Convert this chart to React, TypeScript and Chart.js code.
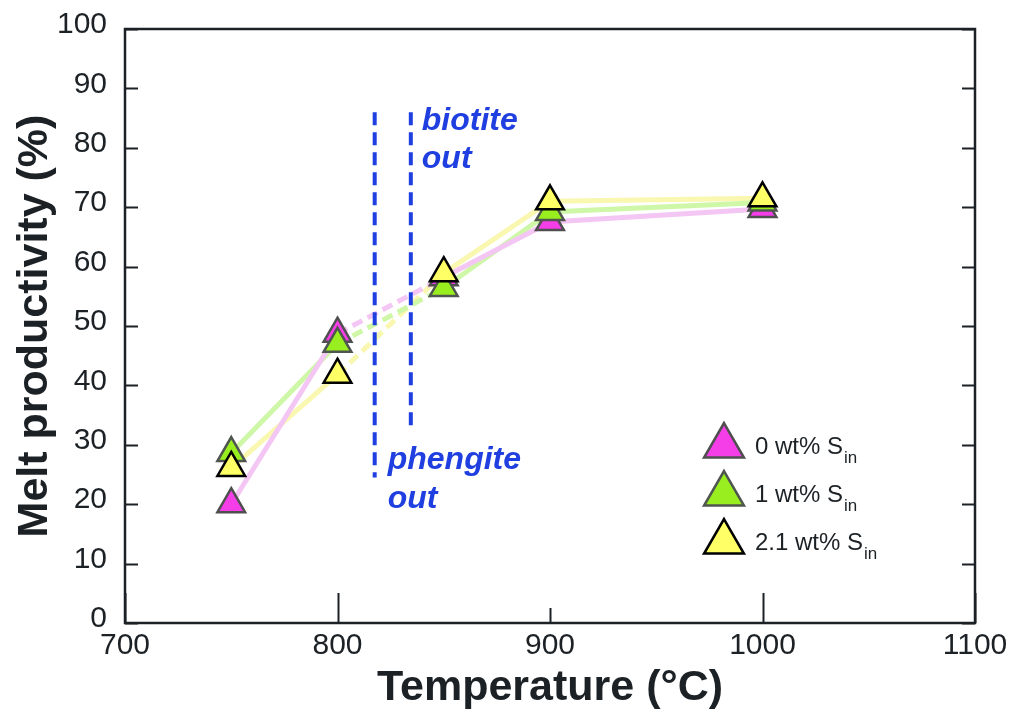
import React, { useEffect, useRef } from 'react';
import { Chart, registerables } from 'chart.js';

Chart.register(...registerables);

// ---- data ----
const temperatures = [750, 800, 850, 900, 1000];
const melt0 = [20.0, 48.7, 58.2, 67.5, 69.7];
const melt1 = [28.6, 47.0, 56.4, 69.2, 70.8];
const melt21 = [26.1, 41.8, 58.9, 71.0, 71.5];
const seriesNames = ['0 wt% S', '1 wt% S', '2.1 wt% S'];
const seriesSub = 'in';
const xTickValues = [700, 800, 900, 1000, 1100];
const yTickValues = [0, 10, 20, 30, 40, 50, 60, 70, 80, 90, 100];
const phaseNames = [['phengite', 'out'], ['biotite', 'out']];
const phaseTemps = [817.5, 834.5];
const phaseTop = [86, 86];
const phaseBottom = [24.5, 33];

// ---- styles ----
const FONT = '"Liberation Sans", Arial, sans-serif';
const TEXT = '#1c2126';
const BLUE = '#1f3fe0';
const pointFill = ['#f53de8', '#99ee1f', '#ffff66'];
const pointStroke = ['#4f4f4f', '#4f554f', '#000000'];
const lineColor = ['#f3c6f3', '#cff7a8', '#f9f7b0'];

const seriesValues = [melt0, melt1, melt21];

function toXY(vals: number[]) {
  return temperatures.map((t, i) => ({ x: t, y: vals[i] }));
}

function drawTri(ctx: CanvasRenderingContext2D, cx: number, cy: number, r: number, fill: string, stroke: string, lw: number) {
  ctx.beginPath();
  ctx.moveTo(cx, cy - r);
  ctx.lineTo(cx + (r * Math.sqrt(3)) / 2, cy + r / 2);
  ctx.lineTo(cx - (r * Math.sqrt(3)) / 2, cy + r / 2);
  ctx.closePath();
  ctx.fillStyle = fill;
  ctx.fill();
  ctx.lineWidth = lw;
  ctx.strokeStyle = stroke;
  ctx.lineJoin = 'miter';
  ctx.stroke();
}

const decorPlugin = {
  id: 'decor',
  afterDatasetsDraw(chart: any) {
    const { ctx, chartArea: a, scales } = chart;
    const x = scales.x;
    const y = scales.y;
    ctx.save();
    // phase boundaries
    ctx.strokeStyle = BLUE;
    ctx.lineWidth = 4;
    ctx.setLineDash([13, 7]);
    phaseTemps.forEach((t, i) => {
      const px = x.getPixelForValue(t);
      ctx.beginPath();
      ctx.moveTo(px, y.getPixelForValue(phaseTop[i]));
      ctx.lineTo(px, y.getPixelForValue(phaseBottom[i]));
      ctx.stroke();
    });
    ctx.setLineDash([]);
    ctx.fillStyle = BLUE;
    ctx.font = `italic bold 32px ${FONT}`;
    ctx.textAlign = 'left';
    ctx.textBaseline = 'alphabetic';
    // phengite: anchored near bottom of its line
    {
      const px = x.getPixelForValue(phaseTemps[0]);
      const py = y.getPixelForValue(phaseBottom[0]);
      ctx.fillText(phaseNames[0][0], px + 13, py - 8);
      ctx.fillText(phaseNames[0][1], px + 13, py + 31);
    }
    // biotite: anchored near top of its line
    {
      const px = x.getPixelForValue(phaseTemps[1]);
      const py = y.getPixelForValue(phaseTop[1]);
      ctx.fillText(phaseNames[1][0], px + 11, py + 18);
      ctx.fillText(phaseNames[1][1], px + 11, py + 56);
    }
    // frame
    ctx.strokeStyle = TEXT;
    ctx.lineWidth = 2.5;
    ctx.strokeRect(a.left, a.top, a.right - a.left, a.bottom - a.top);
    // inward ticks
    ctx.lineWidth = 2;
    yTickValues.forEach((v) => {
      const py = Math.round(y.getPixelForValue(v)) + 0.5;
      ctx.beginPath();
      ctx.moveTo(a.left, py);
      ctx.lineTo(a.left + 13, py);
      ctx.moveTo(a.right, py);
      ctx.lineTo(a.right - 13, py);
      ctx.stroke();
    });
    xTickValues.forEach((v) => {
      const px = Math.round(x.getPixelForValue(v)) + 0.5;
      const len = v === 900 ? 15 : 30;
      ctx.beginPath();
      ctx.moveTo(px, a.bottom);
      ctx.lineTo(px, a.bottom - len);
      ctx.stroke();
    });
    ctx.restore();
  },
  afterDraw(chart: any) {
    const ctx = chart.ctx;
    ctx.save();
    const lx = 724;
    const ly0 = 454;
    const dy = 48;
    seriesNames.forEach((name, i) => {
      const base = ly0 + i * dy;
      drawTri(ctx, lx, base - 8, 23, pointFill[i], pointStroke[i], 2.5);
      ctx.fillStyle = TEXT;
      ctx.textAlign = 'left';
      ctx.textBaseline = 'alphabetic';
      ctx.font = `24px ${FONT}`;
      ctx.fillText(name, 755, base);
      const w = ctx.measureText(name).width;
      ctx.font = `17px ${FONT}`;
      ctx.fillText(seriesSub, 755 + w + 1, base + 9);
    });
    ctx.restore();
  },
};

export default function App() {
  const ref = useRef<HTMLCanvasElement | null>(null);
  useEffect(() => {
    if (!ref.current) return;
    const lineSets = seriesValues.map((vals, i) => ({
      label: seriesNames[i] + seriesSub + ' line',
      data: toXY(vals),
      showLine: true,
      borderColor: lineColor[i],
      backgroundColor: lineColor[i],
      borderWidth: 5,
      pointRadius: 0,
      order: 5 + i,
      segment: {
        borderDash: (c: any) => (c.p0DataIndex === 1 ? [11, 6] : undefined),
      },
    }));
    const pointSets = seriesValues.map((vals, i) => ({
      label: seriesNames[i] + seriesSub,
      data: toXY(vals),
      showLine: false,
      pointStyle: 'triangle',
      pointRadius: 16,
      pointBorderWidth: 2.5,
      pointBackgroundColor: pointFill[i],
      pointBorderColor: pointStroke[i],
      order: 2 - i,
    }));
    const chart = new Chart(ref.current, {
      type: 'scatter',
      data: { datasets: [...lineSets, ...pointSets] as any },
      options: {
        animation: false,
        responsive: false,
        devicePixelRatio: 1,
        events: [],
        layout: { padding: { left: 0, top: 29, right: 39, bottom: 0 } },
        plugins: { legend: { display: false }, tooltip: { enabled: false } },
        scales: {
          x: {
            type: 'linear',
            min: 700,
            max: 1100,
            afterBuildTicks: (s: any) => {
              s.ticks = xTickValues.map((v) => ({ value: v }));
            },
            afterFit: (s: any) => {
              s.height = 92;
              s.paddingLeft = 0;
              s.paddingRight = 0;
            },
            grid: { display: false, drawTicks: false },
            border: { display: false },
            ticks: {
              font: { family: FONT, size: 30 },
              color: TEXT,
              padding: 5,
              maxRotation: 0,
              autoSkip: false,
              callback: (v: any) => String(v),
            },
            title: {
              display: true,
              text: 'Temperature (°C)',
              color: TEXT,
              font: { family: FONT, size: 43, weight: 'bold', lineHeight: 1 },
              padding: { top: 0, bottom: 5 },
            },
          },
          y: {
            type: 'linear',
            min: 0,
            max: 100,
            afterBuildTicks: (s: any) => {
              s.ticks = yTickValues.map((v) => ({ value: v }));
            },
            afterFit: (s: any) => {
              s.width = 125;
              s.paddingTop = 0;
              s.paddingBottom = 0;
            },
            grid: { display: false, drawTicks: false },
            border: { display: false },
            ticks: {
              font: { family: FONT, size: 30 },
              color: TEXT,
              padding: 18,
              labelOffset: -4,
              autoSkip: false,
              callback: (v: any) => String(v),
            },
            title: {
              display: true,
              text: 'Melt productivity (%)',
              color: TEXT,
              font: { family: FONT, size: 43, weight: 'bold', lineHeight: 1 },
              padding: { top: 14, bottom: 0 },
            },
          },
        },
      },
      plugins: [decorPlugin],
    } as any);
    return () => chart.destroy();
  }, []);
  return (
    <div style={{ position: 'absolute', left: 0, top: 0, width: 1014, height: 715, background: '#fff' }}>
      <canvas ref={ref} width={1014} height={715} style={{ display: 'block' }} />
    </div>
  );
}
